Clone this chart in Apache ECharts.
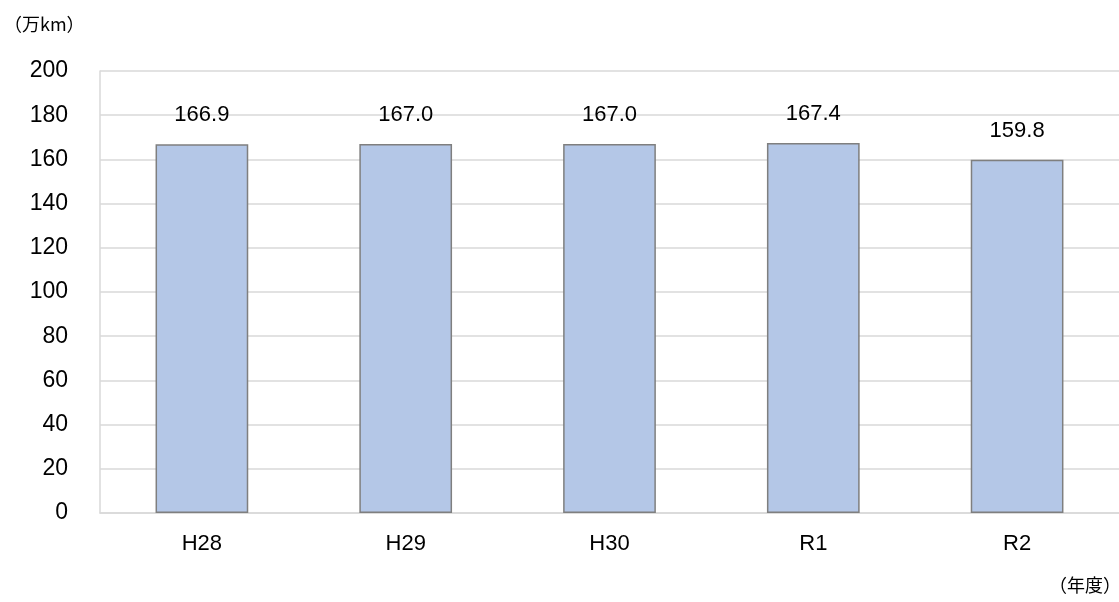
<!DOCTYPE html>
<html><head><meta charset="utf-8">
<script src="https://cdn.jsdelivr.net/npm/echarts@6/dist/echarts.min.js"></script>
<style>html,body{margin:0;padding:0;background:#fff}#c{width:1119px;height:602px}</style>
</head><body><div id="c"></div>
<script>
const categories = ['H28','H29','H30','R1','R2'];
const values = [166.9, 167.0, 167.0, 167.4, 159.8];
const yTicks = [0,20,40,60,80,100,120,140,160,180,200];
const unitLabel = '（万km）';
const xUnitLabel = '（年度）';

const chart = echarts.init(document.getElementById('c'));
const font = '"Liberation Sans", "Noto Sans CJK JP", sans-serif';
const cjk = '"Noto Sans CJK JP", sans-serif';
chart.setOption({
  animation: false,
  textStyle: {fontFamily: font},
  grid: {left: 100, right: 0, top: 71, bottom: 89, containLabel: false},
  graphic: [
    {type:'text', left: 4, top: 15, style:{text: unitLabel, fill:'#000', font: '18px ' + cjk}},
    {type:'text', right: -2, top: 576, style:{text: xUnitLabel, fill:'#000', font: '18px ' + cjk}}
  ],
  xAxis: {
    type: 'category', data: categories,
    axisLine: {lineStyle: {color: '#d9d9d9', width: 1.5}},
    axisTick: {show: false},
    axisLabel: {color: '#000', fontSize: 22, margin: 20, fontFamily: font}
  },
  yAxis: {
    type: 'value', min: yTicks[0], max: yTicks[yTicks.length-1], interval: 20,
    axisLine: {show: true, lineStyle: {color: '#d9d9d9', width: 1.5}},
    axisTick: {show: false},
    splitLine: {lineStyle: {color: '#d9d9d9', width: 1.5}},
    axisLabel: {color: '#000', fontSize: 23, margin: 32, fontFamily: font}
  },
  series: [{
    type: 'bar', data: values, barWidth: '45.5%',
    itemStyle: {color: '#b4c7e7', borderColor: '#7f7f7f', borderWidth: 1.5},
    label: {show: true, position: 'top', distance: 18, color: '#000', fontSize: 22, fontFamily: font,
      formatter: p => p.value.toFixed(1)}
  }]
});
</script></body></html>
